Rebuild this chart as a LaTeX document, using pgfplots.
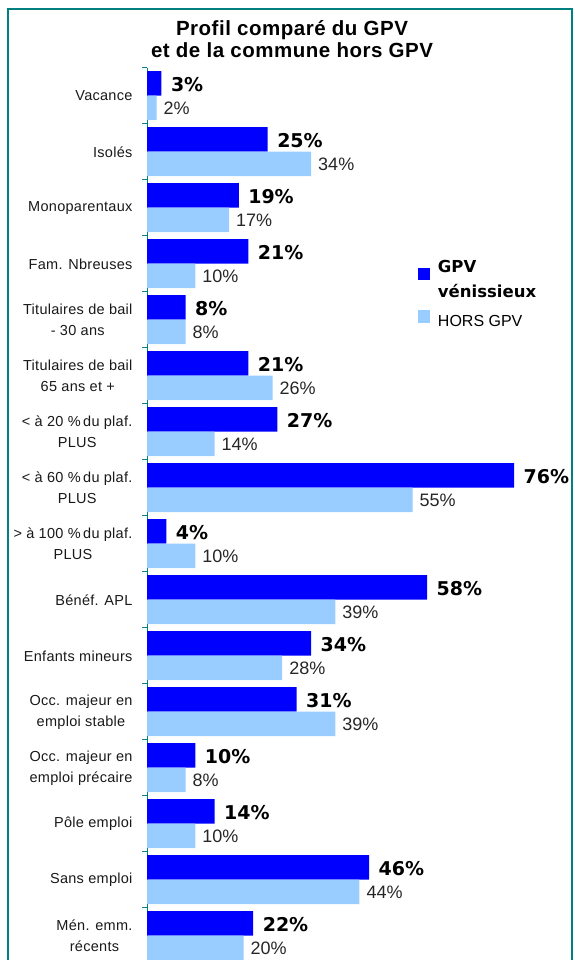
\documentclass[border=0pt]{standalone}
\usepackage{pgfplots}
\pgfplotsset{compat=1.18}
\usepackage{fontspec}
\setmainfont{Liberation Sans}
\newfontfamily\vb{DejaVu Sans}
\newfontfamily\lab[LetterSpace=2]{Liberation Sans}
\newfontfamily\ttl[LetterSpace=2.5]{Liberation Sans}
\definecolor{darkb}{HTML}{0000FF}
\definecolor{lightb}{HTML}{99CCFF}
\definecolor{frame}{HTML}{008080}
\begin{document}
\begin{tikzpicture}[x=1pt,y=1pt]
\useasboundingbox (0,0) rectangle (574,960);
\draw[frame, line width=1.3pt] (8,-10) rectangle (572,951);
\node[font=\ttl\bfseries\fontsize{20.5}{23}\selectfont, align=center] at (292,921) {Profil comparé du GPV\\[-1pt]et de la commune hors GPV};
\begin{axis}[
  at={(147pt,-4pt)}, anchor=south west,
  scale only axis, width=425pt, height=896pt,
  xmin=0, xmax=88, ymin=-0.5, ymax=15.5,
  xbar, bar width=24.5pt,
  axis x line=none,
  axis y line=left,
  y axis line style={frame, line width=1pt, -},
  ytick={0,...,15},
  minor ytick={-0.5,0.5,...,15.5},
  major tick length=0pt, minor tick length=5pt,
  tick align=outside,
  minor tick style={frame, line width=1pt},
  /pgf/number format/assume math mode=true,
  yticklabel style={align=center, font=\lab\fontsize{14.5}{21}\selectfont, xshift=-11pt, text=black!90},
  yticklabels={{Mén. emm.\\récents},{Sans emploi},{Pôle emploi},{Occ. majeur en\\emploi précaire},{Occ. majeur en\\emploi stable},{Enfants mineurs},{Bénéf. APL},{> à 100 \%\,du plaf.\\PLUS},{< à 60 \%\,du plaf.\\PLUS},{< à 20 \%\,du plaf.\\PLUS},{Titulaires de bail\\65 ans et +},{Titulaires de bail\\- 30 ans},{Fam. Nbreuses},{Monoparentaux},{Isolés},{Vacance}},
  nodes near coords={\pgfmathprintnumber{\pgfplotspointmeta}\%},
  point meta=x,
  legend style={at={(0.63,0.79)}, anchor=north west, draw=none, fill=none,
    cells={anchor=west, align=left}, font=\fontsize{16.5}{25}\selectfont,
    /tikz/every odd column/.style={column sep=6pt},
    row sep=9pt},
  legend image code/.code={\fill[#1] (0pt,-0.5pt) rectangle (12pt,12pt);},
  clip=false,
]
\addplot[fill=darkb, draw=none, bar shift=12.5pt,
  every node near coord/.append style={font=\vb\bfseries\fontsize{19}{20}\selectfont, anchor=west, xshift=6pt, yshift=-1pt, text=black}]
  coordinates {(3,15) (25,14) (19,13) (21,12) (8,11) (21,10) (27,9) (76,8) (4,7) (58,6) (34,5) (31,4) (10,3) (14,2) (46,1) (22,0)};
\addlegendentry{\vb\bfseries GPV\\\vb\bfseries vénissieux}
\addplot[fill=lightb, draw=none, bar shift=-12pt,
  every node near coord/.append style={font=\fontsize{18}{20}\selectfont, anchor=west, xshift=3.5pt, text=black!85}]
  coordinates {(2,15) (34,14) (17,13) (10,12) (8,11) (26,10) (14,9) (55,8) (10,7) (39,6) (28,5) (39,4) (8,3) (10,2) (44,1) (20,0)};
\addlegendentry{\fontsize{16}{20}\selectfont HORS GPV}
\end{axis}
\end{tikzpicture}
\end{document}
